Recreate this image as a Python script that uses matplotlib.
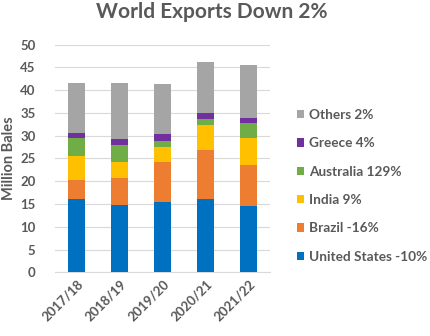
import numpy as np
import matplotlib
matplotlib.use("Agg")
import matplotlib.pyplot as plt

# данные (млн кип)
years = ["2017/18", "2018/19", "2019/20", "2020/21", "2021/22"]
us = [16.1, 14.7, 15.45, 16.2, 14.6]
brazil = [4.1, 6.0, 8.75, 10.7, 9.0]
india = [5.3, 3.6, 3.4, 5.5, 6.0]
australia = [4.0, 3.6, 1.2, 1.3, 3.2]
greece = [1.0, 1.4, 1.6, 1.3, 1.2]
others = [11.15, 12.2, 11.0, 11.2, 11.5]

labels = ["United States -10%", "Brazil -16%", "India 9%",
          "Australia 129%", "Greece 4%", "Others 2%"]
colors = ["#0070C0", "#ED7D31", "#FFC000", "#70AD47", "#7030A0", "#A5A5A5"]

GRAY = "#595959"
plt.rcParams['font.family'] = ['Lato', 'DejaVu Sans']

fig = plt.figure(figsize=(4.31, 3.36), dpi=100)
ax = fig.add_axes([0.1276, 0.1896, 0.4989, 0.6774])

x = np.arange(len(years))
bottom = np.zeros(len(years))
handles = []
for series, col, lab in zip([us, brazil, india, australia, greece, others], colors, labels):
    b = ax.bar(x, series, 0.4, bottom=bottom, color=col, label=lab, zorder=3)
    handles.append(b)
    bottom += np.array(series)

ax.set_xlim(-0.5, len(years) - 0.5)
ax.set_ylim(0, 50)
ax.set_yticks(range(0, 51, 5))
ax.yaxis.grid(True, color="#D9D9D9", lw=0.8, zorder=0)
for s in ["top", "right", "left"]:
    ax.spines[s].set_visible(False)
ax.spines["bottom"].set_color("#D9D9D9")
ax.tick_params(length=0, colors=GRAY, labelsize=9.5)
ax.tick_params(axis="y", pad=14)
ax.tick_params(axis="x", pad=4)
ax.set_xticks(x)
ax.set_xticklabels(years, rotation=45, ha="right", rotation_mode="anchor",
                   fontweight="bold", color=GRAY)
for t in ax.get_yticklabels():
    t.set_fontweight("bold")

ax.set_ylabel("Million Bales", fontsize=10.5, fontweight="bold", color=GRAY, labelpad=3)

fig.suptitle("World Exports Down 2%", x=0.491, y=0.995, fontsize=15,
             fontweight="bold", color=GRAY)

leg = fig.legend(handles[::-1], labels[::-1], loc="upper left",
                 bbox_to_anchor=(0.66, 0.712), frameon=False,
                 handlelength=0.55, handleheight=0.55, handletextpad=0.35,
                 labelspacing=1.2, prop={"size": 9.8, "weight": "bold"})
for t in leg.get_texts():
    t.set_color(GRAY)

fig.savefig("out.png", dpi=100)
